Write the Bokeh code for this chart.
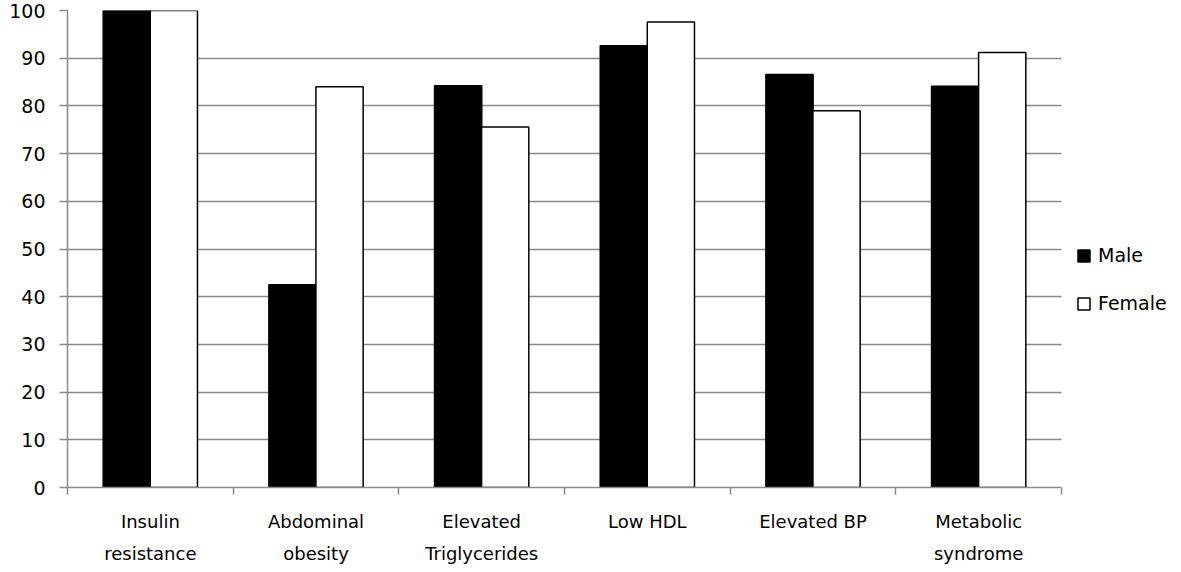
from bokeh.plotting import figure
from bokeh.models import ColumnDataSource, FixedTicker, Legend, LegendItem, Range1d
from bokeh.transform import dodge
from bokeh.embed import file_html
from bokeh.resources import INLINE
import numpy as np

categories = ["Insulin\nresistance", "Abdominal\nobesity", "Elevated\nTriglycerides",
              "Low HDL", "Elevated BP", "Metabolic\nsyndrome"]
male = [100, 42.5, 84.2, 92.6, 86.6, 84.1]
female = [100, 84.0, 75.6, 97.6, 79.0, 91.2]
y_ticks = list(range(0, 101, 10))

FONT = "DejaVu Sans"
GRID = "#8a8a8a"

n = len(categories)
idx = np.arange(n)
src = ColumnDataSource(dict(x=idx, male=male, female=female))

# frame extends to the right to leave room for the legend; axis/grid are bounded to the categories
p = figure(width=1178, height=571, output_backend="svg", toolbar_location=None,
           x_range=Range1d(-0.5, 6.194), y_range=Range1d(0, 100),
           min_border_left=67, min_border_right=2, min_border_top=10, min_border_bottom=84)
p.outline_line_color = None
p.background_fill_color = "white"
p.border_fill_color = "white"

off = 0.142
w = 0.285
rm = p.vbar(x=dodge("x", -off), top="male", width=w, source=src,
            fill_color="black", line_color="black", line_width=1.5)
rf = p.vbar(x=dodge("x", off), top="female", width=w, source=src,
            fill_color="white", line_color="black", line_width=1.5)

# axes
p.xgrid.grid_line_color = None
p.ygrid.grid_line_color = GRID
p.ygrid.grid_line_width = 1.5
p.ygrid.cross_bounds = (-0.5, n - 0.5)
p.ygrid.level = "underlay"
p.yaxis.ticker = FixedTicker(ticks=y_ticks)
p.yaxis.axis_line_color = GRID
p.yaxis.axis_line_width = 1.5
p.yaxis.major_tick_line_color = GRID
p.yaxis.major_tick_line_width = 1.5
p.yaxis.major_tick_in = 0
p.yaxis.major_tick_out = 8
p.yaxis.minor_tick_line_color = None
p.yaxis.major_label_standoff = 14
p.yaxis.major_label_text_font = FONT
p.yaxis.major_label_text_font_size = "19px"
p.yaxis.major_label_text_color = "black"

bounds = [i - 0.5 for i in range(n + 1)]
p.xaxis.bounds = (-0.5, n - 0.5)
p.xaxis.ticker = FixedTicker(ticks=list(idx), minor_ticks=bounds)
p.xaxis.major_label_overrides = {int(i): c for i, c in zip(idx, categories)}
p.xaxis.major_tick_line_color = None
p.xaxis.minor_tick_line_color = GRID
p.xaxis.minor_tick_line_width = 1.5
p.xaxis.minor_tick_in = 0
p.xaxis.minor_tick_out = 7
p.xaxis.axis_line_color = GRID
p.xaxis.axis_line_width = 1.5
p.xaxis.major_label_standoff = 16
p.xaxis.major_label_text_font = FONT
p.xaxis.major_label_text_font_size = "18px"
p.xaxis.major_label_text_color = "black"
p.xaxis.major_label_text_line_height = 1.55

legend = Legend(items=[LegendItem(label="Male", renderers=[rm]),
                       LegendItem(label="Female", renderers=[rf])],
                location=(1009, 173), orientation="vertical",
                glyph_width=15, glyph_height=15, spacing=26, padding=5,
                label_standoff=7, label_text_font=FONT, label_text_font_size="19px",
                label_text_color="black", border_line_color=None,
                background_fill_alpha=0)
p.add_layout(legend)

open("out.html", "w").write(file_html(p, INLINE))
